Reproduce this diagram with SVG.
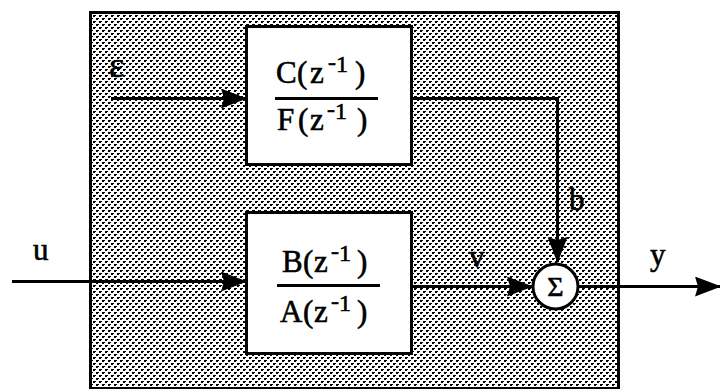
<svg xmlns="http://www.w3.org/2000/svg" width="720" height="389" viewBox="0 0 720 389">
<defs>
<pattern id="dots" x="0" y="0" width="6" height="6" patternUnits="userSpaceOnUse">
<rect width="6" height="6" fill="#ffffff"/>
<rect x="0" y="0" width="2" height="2" fill="#000"/>
<rect x="3" y="3" width="2" height="2" fill="#000"/>
<rect x="2" y="0" width="1" height="1" fill="#000"/>
<rect x="5" y="3" width="1" height="1" fill="#000"/>
</pattern>
<marker id="ah" viewBox="0 0 26 20" refX="25" refY="10" markerWidth="26" markerHeight="20" markerUnits="userSpaceOnUse" orient="auto">
<path d="M0,0 L26,10 L0,20 L3,10 Z" fill="#000"/>
</marker>
</defs>
<style>
.t{font-family:"Liberation Serif","Times New Roman",serif;font-size:31px;fill:#000;stroke:#000;stroke-width:0.6}
.s{font-size:24px}
.box{fill:#fff;stroke:#000;stroke-width:3}
.ln{fill:none;stroke:#000;stroke-width:3}
.fr{stroke:#000;stroke-width:3}
</style>
<rect id="frame" x="90.5" y="12.5" width="528" height="376" fill="url(#dots)" stroke="#000" stroke-width="3"/>
<g id="connectors">
<line class="ln" x1="111" y1="98.5" x2="246" y2="98.5" marker-end="url(#ah)"/>
<polyline class="ln" points="411,98.5 557.5,98.5 557.5,262" marker-end="url(#ah)"/>
<line class="ln" x1="12" y1="281.5" x2="246" y2="281.5" marker-end="url(#ah)"/>
<line class="ln" x1="411" y1="286.5" x2="532" y2="286.5" marker-end="url(#ah)"/>
<line class="ln" x1="579" y1="286.5" x2="720" y2="286.5" marker-end="url(#ah)"/>
</g>
<g id="node-CF">
<rect class="box" x="246.5" y="26.5" width="165" height="138"/>
<line class="fr" x1="275" y1="98.5" x2="378" y2="98.5"/>
<text class="t" y="83"><tspan x="276">C</tspan><tspan x="297">(</tspan><tspan x="310">z</tspan><tspan class="s" x="328" y="70">-</tspan><tspan class="s" x="336" y="72">1</tspan><tspan x="355" y="83">)</tspan></text>
<text class="t" y="130"><tspan x="277">F</tspan><tspan x="298">(</tspan><tspan x="310">z</tspan><tspan class="s" x="327" y="117">-</tspan><tspan class="s" x="335" y="119">1</tspan><tspan x="357" y="130">)</tspan></text>
</g>
<g id="node-BA">
<rect class="box" x="246.5" y="212.5" width="165" height="141"/>
<line class="fr" x1="277" y1="285.5" x2="380" y2="285.5"/>
<text class="t" y="272"><tspan x="282">B</tspan><tspan x="303">(</tspan><tspan x="314">z</tspan><tspan class="s" x="331" y="259">-</tspan><tspan class="s" x="339" y="261">1</tspan><tspan x="357" y="272">)</tspan></text>
<text class="t" y="322"><tspan x="280">A</tspan><tspan x="303">(</tspan><tspan x="314">z</tspan><tspan class="s" x="331" y="309">-</tspan><tspan class="s" x="339" y="311">1</tspan><tspan x="357" y="322">)</tspan></text>
</g>
<g id="node-sum">
<circle cx="555.5" cy="286.5" r="22.5" fill="#fff" stroke="#000" stroke-width="3"/>
<text class="t" x="555.5" y="296" text-anchor="middle" style="font-size:28px">Σ</text>
</g>
<g id="labels">
<text class="t" x="109" y="77" style="font-size:36px">ε</text>
<text class="t" x="33" y="260">u</text>
<text class="t" x="469" y="267">v</text>
<text class="t" x="569" y="210">b</text>
<text class="t" x="650" y="265">y</text>
</g>
</svg>
